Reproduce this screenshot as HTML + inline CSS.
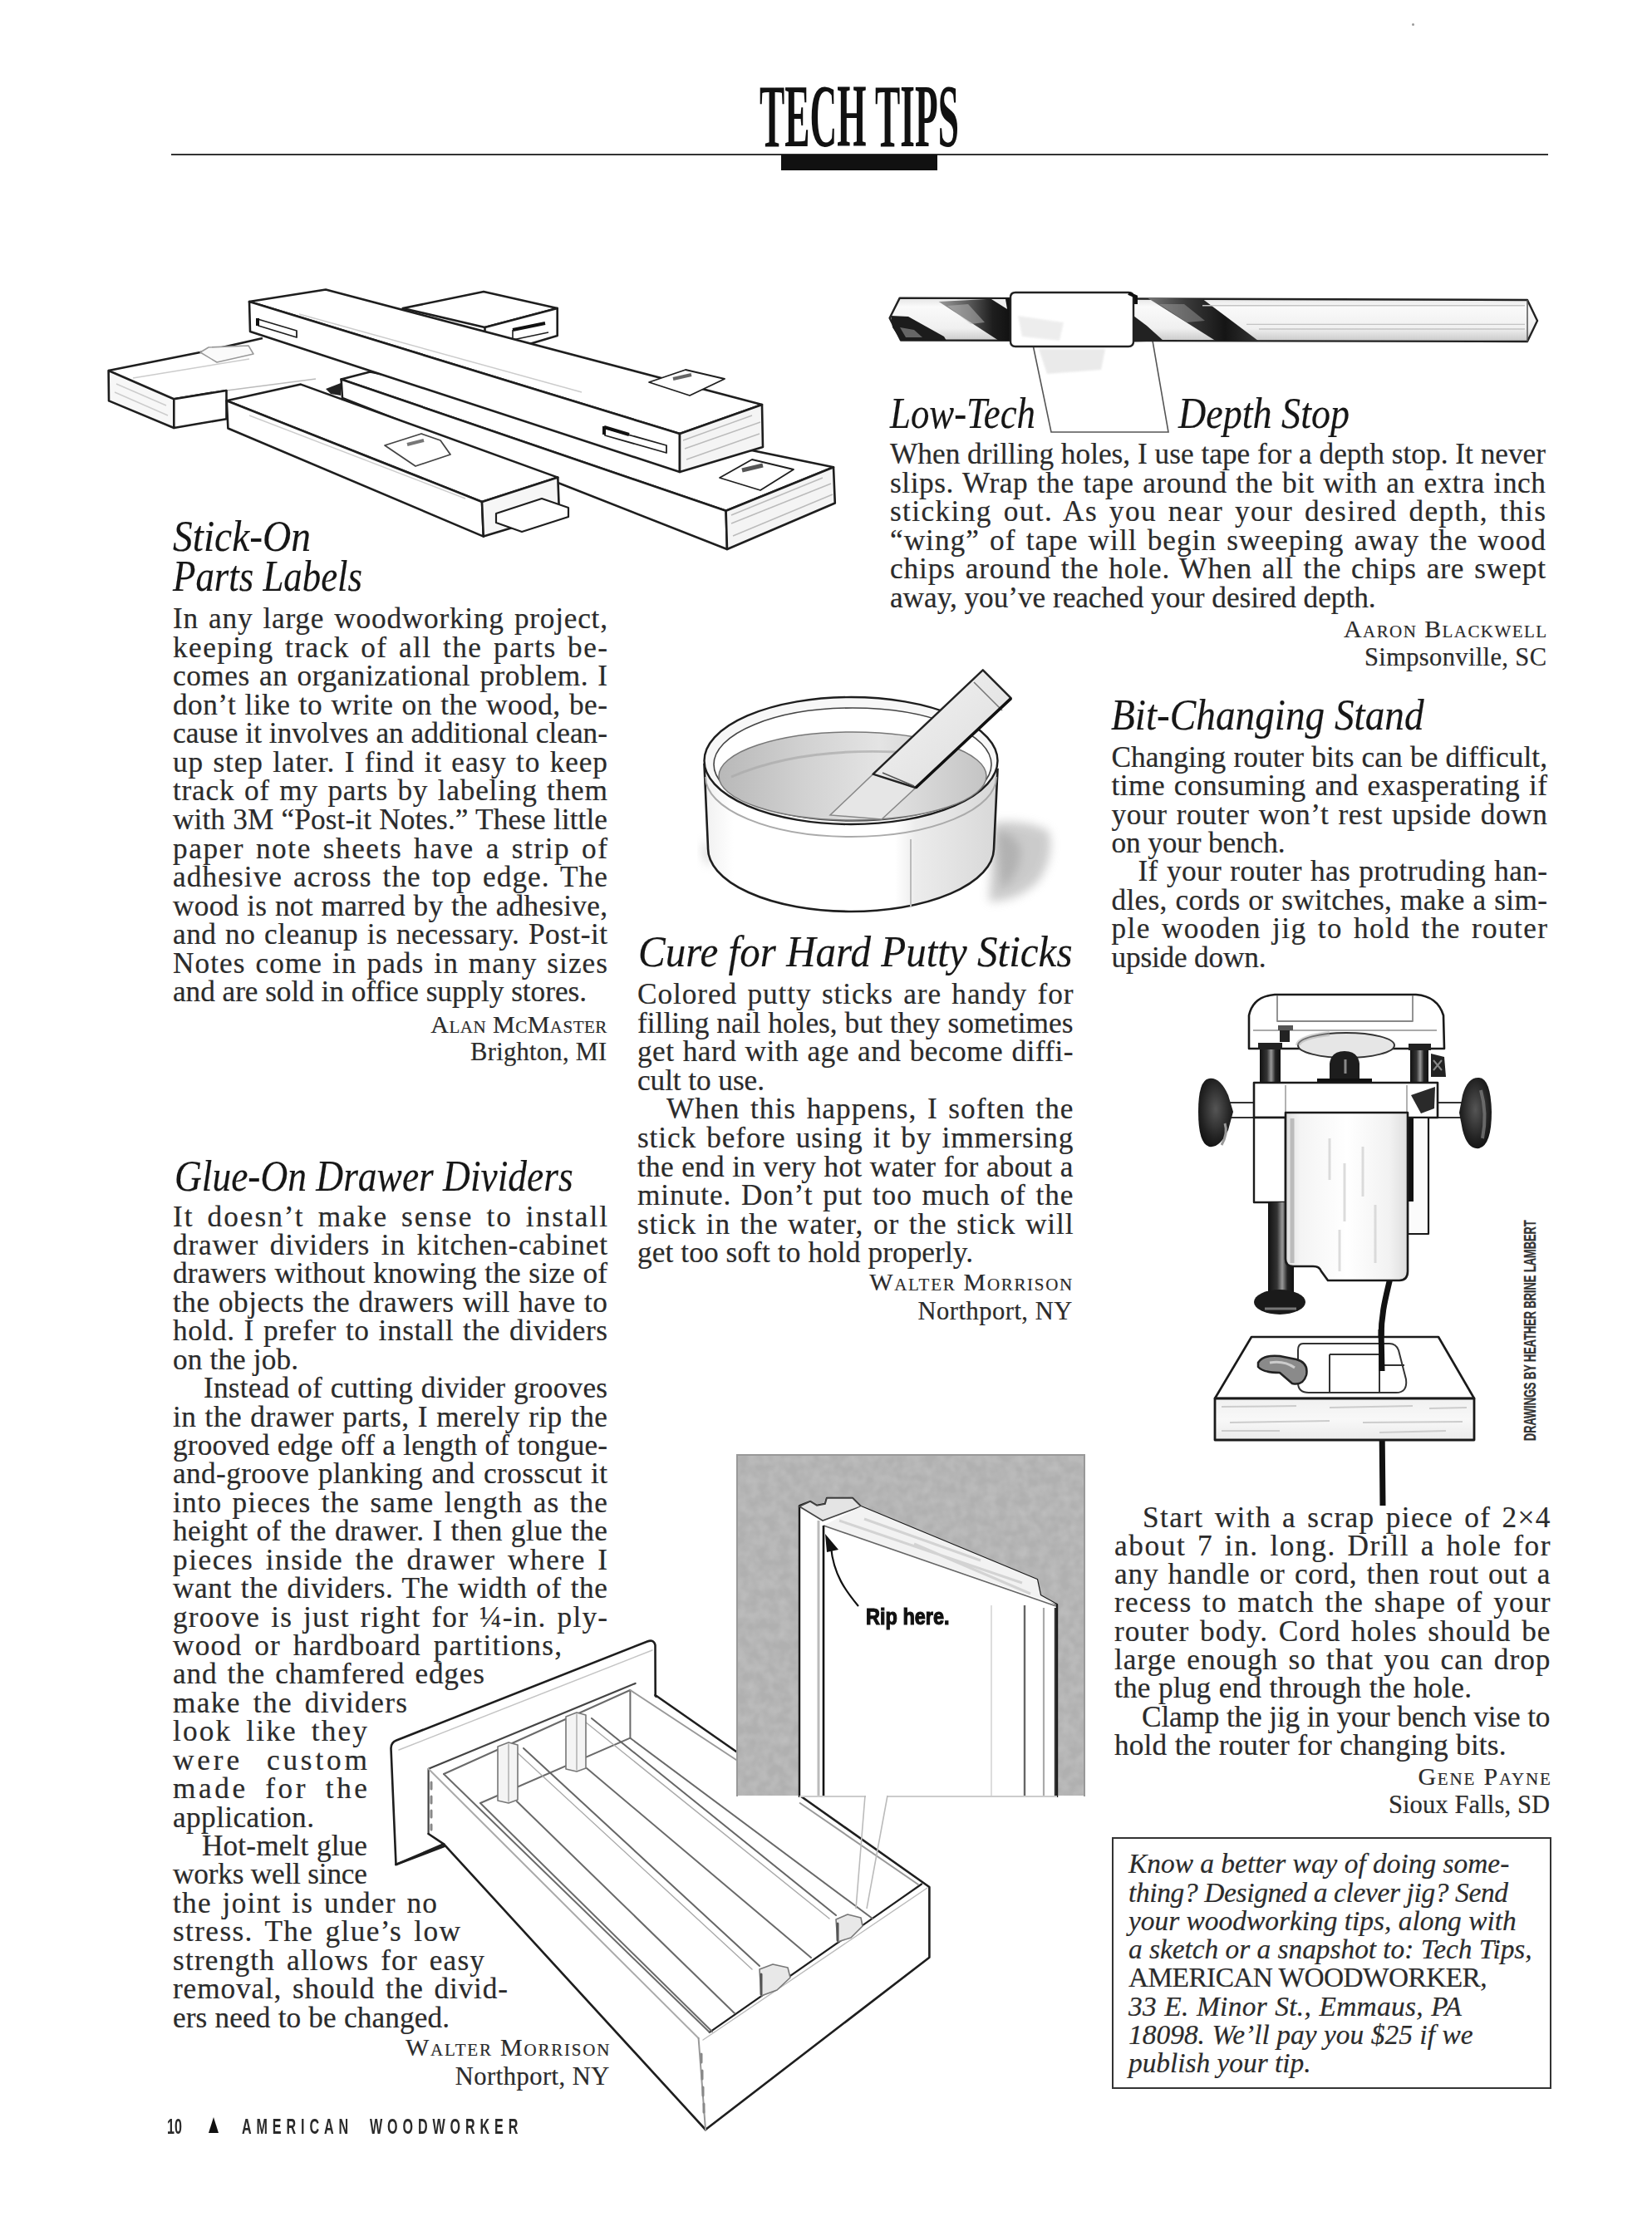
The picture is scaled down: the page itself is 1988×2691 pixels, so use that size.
<!DOCTYPE html>
<html><head><meta charset="utf-8">
<style>
html,body{margin:0;padding:0;background:#fff;}
body{width:1988px;height:2691px;position:relative;overflow:hidden;color:#2b2b2b;}
.ln{position:absolute;white-space:nowrap;-webkit-text-stroke:0.2px #2b2b2b;}
.ft{-webkit-text-stroke:0;font-family:'Liberation Sans',sans-serif;font-weight:bold;font-size:26px;line-height:26px;color:#2a2a2a;transform-origin:0 0;transform:scaleX(0.62);}
.hd{font-family:'Liberation Serif',serif;font-style:italic;font-size:52px;line-height:52px;color:#161616;transform-origin:0 0;}
.at{font-family:'Liberation Serif',serif;font-size:30.5px;line-height:30.5px;}
.at.sc{font-variant:small-caps;font-size:30px;line-height:30px;}
svg{position:absolute;overflow:visible;}
</style></head><body>
<!-- title -->
<div style="position:absolute;left:914px;top:86px;width:239px;height:100px;overflow:visible;">
<div style="position:absolute;left:0;top:0;font-family:'Liberation Serif',serif;font-weight:bold;font-size:108px;line-height:108px;white-space:nowrap;transform-origin:0 0;transform:scaleX(0.42);color:#111;">TECH TIPS</div>
</div>
<div style="position:absolute;left:206px;top:185px;width:1657px;height:2px;background:#333;"></div>
<div style="position:absolute;left:1699px;top:28px;width:3px;height:3px;background:#999;border-radius:50%;"></div>
<div style="position:absolute;left:940px;top:186px;width:188px;height:19px;background:#111;"></div>
<svg width="1988" height="2691" viewBox="0 0 1988 2691" style="left:0;top:0">
<defs>
<filter id="blur1" x="-20%" y="-20%" width="140%" height="140%"><feGaussianBlur stdDeviation="1.2"/></filter>
<filter id="blur3" x="-50%" y="-50%" width="200%" height="200%"><feGaussianBlur stdDeviation="6"/></filter>
<filter id="noise" x="0" y="0" width="100%" height="100%"><feTurbulence type="fractalNoise" baseFrequency="0.08" numOctaves="2" seed="3"/><feColorMatrix type="matrix" values="0 0 0 0 0.66  0 0 0 0 0.66  0 0 0 0 0.66  0 0 0 1.2 -0.35"/></filter>
</defs>
<g stroke="#1e1e1e" stroke-width="2.6" stroke-linejoin="round" fill="#fff">
<!-- Board C (left crosswise) -->
<polygon points="130.6,446 241,424 316,407 445,447 411,456 360,461 272.5,470 209.3,480.2" stroke="none"/>
<path d="M130.6,446 L241,424 L316,407" fill="none"/>
<path d="M209.3,480.2 L272.5,470" fill="none"/>
<path d="M272.5,470 L380,456" fill="none" stroke="#bbb" stroke-width="1.6"/>
<path d="M160,455 L300,432" fill="none" stroke="#ccc" stroke-width="1.5"/>
<polygon points="130.6,446 209.3,480.2 209.3,515 131,482.4" fill="#f7f7f7"/>
<path d="M140,462 L200,488 M138,472 L202,500" stroke="#ccc" stroke-width="1.4" fill="none"/>
<polygon points="209.3,480.2 272.5,470 272.5,504.2 209.3,515"/>
<path d="M241,424 l10,-6 l48,-2 l6,10 l-44,10 z" stroke="#999" stroke-width="1.5" fill="#fafafa"/>
<!-- Board E (middle long) -->
<polygon points="392,468 410,461 410,476 398,474" fill="#222" stroke="none"/>
<polygon points="410.6,456.5 445.4,447.4 1003,562.3 873.6,614.8"/>
<polygon points="410.6,456.5 873.6,614.8 875,661 412,479"/>
<polygon points="873.6,614.8 1003,562.3 1004.8,605.5 875,661" fill="#f4f4f4"/>
<g stroke="#bbb" stroke-width="1.4" fill="none">
<path d="M880,630 L1000,582 M882,645 L1002,595 M880,620 L990,575"/>
</g>
<path d="M866,575 L905,553 L955,565 L915,590 Z" stroke-width="1.8"/>
<path d="M893,566 l25,-6" stroke="#555" stroke-width="5"/>
<!-- Board B (upper right small) -->
<polygon points="484.7,371 582,351 670.7,371 583.5,394"/>
<polygon points="583.5,394 670.7,371 670.7,404 583.5,430"/>
<path d="M617,397 L656,389" stroke="#111" stroke-width="4"/>
<path d="M617,397 L617,409 L660,400" stroke-width="1.6" fill="none"/>
<!-- Board A (top long) -->
<polygon points="300,363 392,348.5 917,487 818,522"/>
<polygon points="300,363 818,522 818,568 301,399"/>
<polygon points="818,522 917,487 918,538 818,568" fill="#f4f4f4"/>
<g stroke="#bbb" stroke-width="1.4" fill="none">
<path d="M824,540 L915,508 M826,553 L914,522 M822,530 L905,500"/>
</g>
<path d="M310,384 L357,398 L357,406 L311,392 Z" stroke-width="1.8"/>
<path d="M310,383 l0,9" stroke="#111" stroke-width="4"/>
<path d="M727,515 L802,536 L802,545 L728,524 Z" stroke-width="1.8"/>
<path d="M727,513 l0,10 M727,514 l30,9" stroke="#111" stroke-width="4"/>
<path d="M781,460 L825,445 L872,456 L830,476 Z" stroke-width="1.8"/>
<path d="M810,456 l22,-5" stroke="#666" stroke-width="4"/>
<path d="M360,378 L700,472" stroke="#ccc" stroke-width="1.5" fill="none"/>
<!-- Board D (front left) -->
<polygon points="272.8,482.3 362,462.6 671.3,574.6 580,604"/>
<polygon points="272.8,482.3 580,604 581.8,645.6 274.4,515.5"/>
<polygon points="580,604 671.3,574.6 673,618 581.8,645.6" fill="#f6f6f6"/>
<path d="M463,536 L507,522 L530,530 L542,547 L500,561 Z" stroke-width="1.8" stroke="#444"/>
<path d="M490,535 l20,-5" stroke="#777" stroke-width="4"/>
<path d="M300,500 L560,600" stroke="#ccc" stroke-width="1.5" fill="none"/>
<!-- tab label sticking out of D end -->
<polygon points="597,618 652,600 684,611 684,622 628,640 597,629" stroke-width="2.2"/>
</g>

<g>
<defs>
<linearGradient id="flute2" x1="0" y1="0" x2="1" y2="0">
<stop offset="0" stop-color="#9a9a9a"/><stop offset="0.45" stop-color="#555"/><stop offset="0.75" stop-color="#1e1e1e"/><stop offset="1" stop-color="#111"/>
</linearGradient>
<linearGradient id="flute3" x1="0" y1="0" x2="1" y2="0">
<stop offset="0" stop-color="#777"/><stop offset="0.35" stop-color="#3a3a3a"/><stop offset="0.7" stop-color="#151515"/><stop offset="1" stop-color="#333"/>
</linearGradient>
<linearGradient id="shank" x1="0" y1="0" x2="0" y2="1">
<stop offset="0" stop-color="#e4e4e4"/><stop offset="0.2" stop-color="#fafafa"/><stop offset="0.7" stop-color="#f0f0f0"/><stop offset="1" stop-color="#c8c8c8"/>
</linearGradient>
</defs>
<!-- wing of tape -->
<polygon points="1243,415 1265,520 1406,520 1387,410" fill="#fff" stroke="#555" stroke-width="1.6"/>
<path d="M1250,420 L1330,420 L1325,445 L1260,450 Z" fill="#ddd" filter="url(#blur1)" opacity="0.6"/>
<!-- bit body -->
<path d="M1070.6,382.8 L1082.7,358.6 L1838,361 L1850,386 L1838,411 L1084,409.5 Z" fill="url(#shank)" stroke="#222" stroke-width="2.4" stroke-linejoin="round"/>
<!-- flutes left -->
<path d="M1072,380 L1093,381 L1136,405 L1139,410 L1084,409.5 L1074,394 Z" fill="#1c1c1c"/>
<path d="M1083,394 L1100,397 L1110,406 L1090,406 Z" fill="#666"/>
<path d="M1129.6,363 L1216,358.6 L1216,410 L1202,410 Z" fill="url(#flute2)"/>
<path d="M1193,360 L1210,360 L1212,372 Z" fill="#eee"/>
<path d="M1140,368 L1165,366 L1185,388 L1168,390 Z" fill="#bbb" opacity="0.5"/>
<!-- flutes right -->
<path d="M1364,380 L1380,392 L1400,410 L1364,410 Z" fill="#222"/>
<path d="M1380.8,358.6 L1447.4,360 L1514,410 L1462.6,410 Z" fill="url(#flute3)"/>
<path d="M1395,366 L1425,366 L1450,386 L1428,388 Z" fill="#999" opacity="0.5"/>
<path d="M1447,367.7 L1835,367.7 M1500,390.4 L1835,390.4 M1515,396 L1835,396" stroke="#c4c4c4" stroke-width="1.4"/>
<path d="M1838,361 L1838,411" stroke="#555" stroke-width="1.5"/>
<!-- tape -->
<path d="M1222,352 L1358,352 Q1364,352 1364,358 L1364,411 Q1364,417 1358,417 L1222,417 Q1216,417 1216,411 L1216,358 Q1216,352 1222,352 Z" fill="#fff" stroke="#222" stroke-width="2.4"/>
<path d="M1225,380 L1280,388 L1275,410 L1230,405 Z" fill="#ddd" filter="url(#blur1)" opacity="0.5"/>
<path d="M1358,353 L1367,357 L1367,366" fill="none" stroke="#111" stroke-width="4"/>
</g>

<g>
<defs>
<linearGradient id="water" x1="0" y1="0" x2="1" y2="0">
<stop offset="0" stop-color="#b8b8b8"/><stop offset="0.3" stop-color="#d0d0d0"/><stop offset="0.6" stop-color="#e4e4e4"/><stop offset="1" stop-color="#c4c4c4"/>
</linearGradient>
<linearGradient id="bowlside" x1="0" y1="0" x2="1" y2="0">
<stop offset="0" stop-color="#f0f0f0"/><stop offset="0.1" stop-color="#fff"/><stop offset="0.65" stop-color="#fff"/><stop offset="0.72" stop-color="#ececec"/><stop offset="1" stop-color="#d8d8d8"/>
</linearGradient>
<linearGradient id="stick" x1="0" y1="0" x2="1" y2="1">
<stop offset="0" stop-color="#f4f4f4"/><stop offset="1" stop-color="#dcdcdc"/>
</linearGradient>
</defs>
<!-- shadow -->
<path d="M1196,990 Q1230,985 1262,1000 Q1270,1030 1250,1060 Q1225,1085 1190,1085 Z" fill="#aaa" filter="url(#blur3)" opacity="0.6"/>
<path d="M1198,1000 Q1218,1000 1228,1020 Q1230,1050 1205,1070 Z" fill="#999" filter="url(#blur3)" opacity="0.5"/>
<path d="M850,1010 Q840,1025 852,1040 L858,1040 Z" fill="#bbb" filter="url(#blur3)" opacity="0.6"/>
<!-- side -->
<path d="M847.5,920 L852,1020 A172,76 0 0 0 1196,1022 L1200.5,926 Z" fill="url(#bowlside)" stroke="#1e1e1e" stroke-width="2.6"/>
<path d="M1096,1010 L1096,1092" stroke="#bbb" stroke-width="2"/>
<path d="M849,935 A175,72 0 0 0 1199,935" fill="none" stroke="#aaa" stroke-width="2"/>
<!-- rim -->
<ellipse cx="1024" cy="915.5" rx="176.5" ry="76.5" fill="#f7f7f7" stroke="#1e1e1e" stroke-width="2.4"/>
<ellipse cx="1026" cy="920" rx="167" ry="68" fill="#fff" stroke="#444" stroke-width="1.6"/>
<!-- water -->
<ellipse cx="1026" cy="934" rx="161" ry="53" fill="url(#water)" stroke="#777" stroke-width="1.5"/>
<path d="M880,935 Q960,900 1080,905" stroke="#aaa" stroke-width="3" fill="none" opacity="0.7"/>
<!-- submerged stick -->
<polygon points="1050.6,931.6 1102,948 1061,986 999,981" fill="#e6e6e6" stroke="#888" stroke-width="1.5"/>
<!-- stick -->
<polygon points="1182.8,806.3 1216.8,840.4 1102,948 1050.6,931.6" fill="url(#stick)" stroke="#222" stroke-width="2.4" stroke-linejoin="round"/>
<path d="M1172,821 L1206,855" stroke="#777" stroke-width="1.6"/>
<path d="M1216.8,840.4 L1102,948" stroke="#111" stroke-width="3.5"/>
<path d="M1062,930 L1100,946" stroke="#555" stroke-width="1.6"/>
</g>

<g stroke-linejoin="round">
<defs>
<linearGradient id="post" x1="0" y1="0" x2="1" y2="0">
<stop offset="0" stop-color="#111"/><stop offset="0.35" stop-color="#333"/><stop offset="0.55" stop-color="#999"/><stop offset="0.75" stop-color="#222"/><stop offset="1" stop-color="#111"/>
</linearGradient>
<radialGradient id="knob" cx="0.5" cy="0.45" r="0.6">
<stop offset="0" stop-color="#555"/><stop offset="0.7" stop-color="#222"/><stop offset="1" stop-color="#111"/>
</radialGradient>
<linearGradient id="motor" x1="0" y1="0" x2="1" y2="0">
<stop offset="0" stop-color="#ddd"/><stop offset="0.12" stop-color="#f4f4f4"/><stop offset="0.5" stop-color="#fff"/><stop offset="0.85" stop-color="#f2f2f2"/><stop offset="1" stop-color="#ddd"/>
</linearGradient>
<linearGradient id="grain" x1="0" y1="0" x2="0" y2="1">
<stop offset="0" stop-color="#f0f0f0"/><stop offset="0.5" stop-color="#f8f8f8"/><stop offset="1" stop-color="#eaeaea"/>
</linearGradient>
</defs>
<!-- cord behind -->
<path d="M1673,1538 C1668,1560 1662,1580 1662,1610 L1664,1812" fill="none" stroke="#111" stroke-width="7"/>
<!-- base -->
<path d="M1534,1197 L1704,1197 Q1730,1199 1737,1222 L1738,1262 L1503,1262 L1503,1222 Q1508,1199 1534,1197 Z" fill="#fff" stroke="#1a1a1a" stroke-width="2.6"/>
<path d="M1537,1198 L1537,1229 L1700,1229 L1700,1198" fill="none" stroke="#888" stroke-width="1.8"/>
<path d="M1508,1240 L1729,1240" stroke="#aaa" stroke-width="2"/>
<ellipse cx="1620" cy="1258" rx="58" ry="15" fill="#e6e6e6" stroke="#333" stroke-width="2"/>
<path d="M1562,1258 A58,15 0 0 1 1600,1244" fill="none" stroke="#aaa" stroke-width="6" opacity="0.5"/>
<rect x="1540" y="1236" width="12" height="18" fill="#222"/>
<rect x="1538" y="1234" width="18" height="6" fill="#555"/>
<!-- posts -->
<rect x="1516" y="1257" width="25" height="46" fill="url(#post)"/>
<rect x="1514" y="1255" width="29" height="8" fill="#222"/>
<rect x="1697" y="1258" width="22" height="45" fill="url(#post)"/>
<rect x="1695" y="1256" width="27" height="8" fill="#222"/>
<path d="M1722,1268 L1738,1272 L1740,1296 L1722,1296 Z" fill="#222"/>
<path d="M1725,1276 l10,12 M1735,1276 l-10,12" stroke="#888" stroke-width="2"/>
<!-- collet nut -->
<path d="M1600,1299 L1600,1280 Q1602,1265 1618,1265 Q1634,1265 1636,1280 L1636,1299 Z" fill="#1d1d1d"/>
<path d="M1619,1275 L1619,1292" stroke="#888" stroke-width="3"/>
<path d="M1585,1300 L1651,1300" stroke="#111" stroke-width="4"/>
<!-- handle bars -->
<rect x="1468" y="1327" width="42" height="18" fill="#fff" stroke="#333" stroke-width="2"/>
<rect x="1728" y="1327" width="40" height="18" fill="#fff" stroke="#333" stroke-width="2"/>
<!-- knobs -->
<path d="M1455,1298 Q1442,1300 1442,1338 Q1442,1376 1455,1380 Q1468,1382 1478,1360 L1484,1338 L1478,1318 Q1468,1296 1455,1298 Z" fill="url(#knob)"/>
<path d="M1474,1352 Q1478,1364 1470,1378" stroke="#999" stroke-width="3" fill="none"/>
<path d="M1780,1297 Q1794,1298 1795,1338 Q1795,1378 1780,1382 Q1766,1384 1760,1360 L1756,1339 L1760,1318 Q1766,1296 1780,1297 Z" fill="url(#knob)"/>
<path d="M1782,1312 Q1790,1340 1784,1370" stroke="#777" stroke-width="4" fill="none" opacity="0.8"/>
<!-- carriage -->
<rect x="1509" y="1303" width="221" height="42" fill="#fff" stroke="#1a1a1a" stroke-width="2.6"/>
<path d="M1547,1306 L1547,1345 M1693,1306 L1693,1345" stroke="#aaa" stroke-width="1.8"/>
<path d="M1698,1318 L1727,1308 L1726,1334 L1710,1340 Z" fill="#2a2a2a"/>
<!-- left piece -->
<rect x="1509" y="1345" width="38" height="102" fill="#fff" stroke="#1a1a1a" stroke-width="2.4"/>
<!-- depth rod -->
<rect x="1526" y="1447" width="31" height="110" fill="url(#post)"/>
<ellipse cx="1540" cy="1567" rx="31" ry="15" fill="#1a1a1a"/>
<path d="M1522,1575 L1560,1575" stroke="#777" stroke-width="3"/>
<!-- right piece -->
<rect x="1694" y="1345" width="25" height="140" fill="#fbfbfb" stroke="#1a1a1a" stroke-width="2.2"/>
<rect x="1693" y="1346" width="8" height="100" fill="#111"/>
<!-- motor body -->
<path d="M1547,1339 L1694,1339 L1694,1530 Q1694,1541 1684,1541 L1598,1541 L1590,1530 Q1588,1524 1580,1524 L1556,1524 Q1547,1524 1547,1515 Z" fill="url(#motor)" stroke="#1a1a1a" stroke-width="2.6"/>
<path d="M1555,1346 L1555,1520" stroke="#bbb" stroke-width="5"/>
<g stroke="#d4d4d4" stroke-width="3" opacity="0.8">
<path d="M1600,1370 L1600,1420 M1618,1400 L1618,1470 M1640,1380 L1640,1440 M1655,1450 L1655,1520 M1612,1480 L1612,1530"/>
</g>
<!-- jig block -->
<polygon points="1506,1609 1731,1609 1774,1683 1462,1683" fill="#fff" stroke="#1a1a1a" stroke-width="2.6"/>
<rect x="1462" y="1683" width="312" height="50" fill="url(#grain)" stroke="#1a1a1a" stroke-width="2.8"/>
<g stroke="#ccc" stroke-width="2" fill="none">
<path d="M1470,1693 L1560,1692 M1600,1694 L1700,1692 M1720,1695 L1765,1694 M1480,1712 L1600,1710 M1640,1712 L1760,1711 M1470,1722 L1540,1722 M1660,1724 L1740,1722"/>
</g>
<!-- recess -->
<path d="M1568,1617 L1672,1617 Q1680,1617 1683,1625 L1692,1660 Q1694,1676 1680,1676 L1575,1676 Q1562,1676 1562,1664 L1562,1625 Q1562,1617 1568,1617 Z" fill="#fff" stroke="#333" stroke-width="2"/>
<path d="M1600,1630 L1660,1630 L1660,1676 M1600,1630 L1600,1676 M1660,1643 L1690,1643" fill="none" stroke="#333" stroke-width="2"/>
<path d="M1514,1640 Q1520,1630 1540,1632 L1560,1636 Q1575,1640 1572,1655 Q1568,1668 1555,1665 L1540,1652 Q1520,1652 1514,1645 Z" fill="#8a8a8a" stroke="#222" stroke-width="2.5"/>
<path d="M1528,1640 Q1545,1637 1558,1646" stroke="#ccc" stroke-width="3" fill="none"/>
<!-- cord on top of block -->
<path d="M1662,1600 L1663,1650" stroke="#111" stroke-width="7"/>
</g>

<g stroke-linejoin="round" stroke-linecap="round">
<!-- false front -->
<path d="M476.5,2244 L470.5,2104 Q470.5,2097 477,2094.5 L779,1975.5 Q787,1972.5 788.5,1980 L789,2125 L476.5,2244 Z" fill="#fff" stroke="#1e1e1e" stroke-width="2.6"/>
<path d="M480,2106 L785,1986" stroke="#c4c4c4" stroke-width="1.5"/>
<!-- drawer box fill -->
<path d="M515.6,2128.8 L764.6,2025.9 L1118.4,2271 L1118.4,2355.7 L849,2563 L534.1,2219.3 L515.6,2207 Z" fill="#fff"/>
<!-- outer contour -->
<g fill="none" stroke="#1e1e1e" stroke-width="2.6">
<path d="M476.5,2244 L534.1,2219.3"/>
<path d="M515.6,2207 L515.6,2128.8 L764.6,2025.9" stroke-width="2.2" stroke="#444"/>
<path d="M515.6,2207 L534.1,2219.3 L849,2563"/>
<path d="M788.5,2040 L886,2108"/>
<path d="M962.7,2161 L1118.4,2271 L1118.4,2355.7 L849,2563"/>
<path d="M853.8,2445.8 L1109,2267.5" stroke-width="2.2"/>
</g>
<!-- light/mid interior lines -->
<g fill="none" stroke="#6a6a6a" stroke-width="2">
<path d="M534,2135 L758.4,2034 L758.4,2091.7 L578,2170"/>
<path d="M515.6,2128.8 L840.6,2453" stroke="#aaa"/>
<path d="M534,2135 L853.8,2445.8"/>
<path d="M840.6,2453 L849,2563" stroke="#999"/>
<path d="M846,2455 L1116,2272" stroke="#bbb" stroke-width="1.4"/>
<path d="M758.4,2034 L886,2118 M962.7,2170 L1105,2268" stroke="#999"/>
<!-- floor lines -->
<path d="M578,2170 L857,2445"/>
<path d="M622,2168 L884,2423"/>
<path d="M706,2128 L976,2356"/>
<path d="M758.4,2091.7 L1050,2309"/>
<!-- divider top edges -->
<path d="M630,2104 L914,2366" stroke="#666"/>
<path d="M621,2108 L905,2370" stroke="#aaa" stroke-width="1.4"/>
<path d="M712,2068 L1006,2305" stroke="#666"/>
<path d="M704,2072 L998,2309" stroke="#aaa" stroke-width="1.4"/>
<!-- dovetail marks -->
<path d="M519,2145 l0,8 M519,2162 l0,8 M519,2179 l0,8 M519,2196 l0,6 M844,2472 l0,10 M845,2492 l0,10 M846,2512 l0,10 M847,2532 l0,10" stroke="#888" stroke-width="3"/>
</g>
<!-- glue blocks -->
<g fill="#f4f4f4" stroke="#777" stroke-width="1.6">
<path d="M599,2102 L612,2097 L623,2100 L623,2166 L612,2170 L599,2167 Z"/>
<path d="M681,2066 L694,2061 L705,2064 L705,2128 L694,2132 L681,2129 Z"/>
<path d="M914,2370 L930,2364 L948,2368 L951,2380 L935,2395 L916,2402 Z" fill="#e8e8e8"/>
<path d="M1006,2310 L1020,2304 L1036,2308 L1038,2318 L1024,2332 L1008,2337 Z" fill="#e8e8e8"/>
</g>
<path d="M612,2099 L612,2168 M694,2063 L694,2130" stroke="#aaa" stroke-width="1.4"/>
<path d="M916,2376 L916,2400 M1008,2315 L1008,2335" stroke="#555" stroke-width="3"/>
</g>

<g>
<rect x="887" y="1751" width="418" height="410" fill="#b0b0b0"/>
<rect x="887" y="1751" width="418" height="410" filter="url(#noise)" opacity="0.55"/>
<path d="M887,2162 L887,1751 L1305,1751 L1305,2162" fill="none" stroke="#999" stroke-width="2"/>
<!-- board -->
<path d="M962,2163 L962,1812 L975,1807 L983,1812 L993,1810 L995,1803 L1026,1803 L1036,1813 L1248,1901 L1252,1920 L1272,1931 L1272,2163 Z" fill="#fff" stroke="none"/>
<path d="M962,2163 L962,1812 L975,1807 L983,1812 L993,1810 L995,1803 L1026,1803 L1036,1813 L1248,1901 L1252,1920 L1272,1931 L1272,2163" fill="none" stroke="#1a1a1a" stroke-width="2.4" stroke-linejoin="round"/>
<path d="M962,1813 L975,1807 L983,1812 L993,1810 L995,1803 L1026,1803 L1036,1813 L990,1830 Z" fill="#e4e4e4" stroke="#444" stroke-width="1.6"/>
<path d="M1036,1813 L1248,1901 L1252,1920 L1272,1931 L991,1836 Z" fill="#f2f2f2"/>
<path d="M991,1836 L1271,1933" stroke="#666" stroke-width="1.8"/>
<g stroke="#ccc" stroke-width="3" opacity="0.8">
<path d="M1010,1830 L1230,1905 M1040,1828 L1180,1878 M1100,1858 L1240,1918"/>
</g>
<path d="M985,1830 L985,2161" stroke="#bbb" stroke-width="3"/>
<path d="M991,1836 L991,2161" stroke="#111" stroke-width="2.6"/>
<path d="M1193,1932 L1193,2161" stroke="#ddd" stroke-width="2"/>
<path d="M1233,1932 L1233,2161" stroke="#666" stroke-width="2.4"/>
<path d="M1256,1935 L1256,2161" stroke="#aaa" stroke-width="2.2"/>
<path d="M1270,1935 L1270,2161" stroke="#333" stroke-width="2.4"/>
<path d="M962,2162 L1042,2162 M1068,2162 L1272,2162" stroke="#ccc" stroke-width="2"/>
<!-- arrow -->
<path d="M1033,1933 C1018,1915 1003,1895 1000,1862" fill="none" stroke="#111" stroke-width="2.2"/>
<path d="M993,1846 L1009,1865 L995,1868 Z" fill="#111"/>
<!-- callout lines -->
<path d="M1041,2161 L1030,2297 M1068,2161 L1043,2297" stroke="#bbb" stroke-width="1.6" fill="none"/>
</g>

</svg>
<div class="ln" style="top:727.0px;left:208.0px;font-size:35.3px;line-height:35.3px;font-family:'Liberation Serif',serif;letter-spacing:0.755px;word-spacing:2.589px;">In any large woodworking project,</div>
<div class="ln" style="top:761.6px;left:208.0px;font-size:35.3px;line-height:35.3px;font-family:'Liberation Serif',serif;letter-spacing:1.406px;word-spacing:3.314px;">keeping track of all the parts be-</div>
<div class="ln" style="top:796.1px;left:208.0px;font-size:35.3px;line-height:35.3px;font-family:'Liberation Serif',serif;letter-spacing:0.525px;word-spacing:1.856px;">comes an organizational problem. I</div>
<div class="ln" style="top:830.7px;left:208.0px;font-size:35.3px;line-height:35.3px;font-family:'Liberation Serif',serif;letter-spacing:0.474px;word-spacing:1.016px;">don’t like to write on the wood, be-</div>
<div class="ln" style="top:865.3px;left:208.0px;font-size:35.3px;line-height:35.3px;font-family:'Liberation Serif',serif;letter-spacing:0.011px;word-spacing:0.036px;">cause it involves an additional clean-</div>
<div class="ln" style="top:899.9px;left:208.0px;font-size:35.3px;line-height:35.3px;font-family:'Liberation Serif',serif;letter-spacing:0.887px;word-spacing:1.712px;">up step later. I find it easy to keep</div>
<div class="ln" style="top:934.4px;left:208.0px;font-size:35.3px;line-height:35.3px;font-family:'Liberation Serif',serif;letter-spacing:0.781px;word-spacing:1.841px;">track of my parts by labeling them</div>
<div class="ln" style="top:969.0px;left:208.0px;font-size:35.3px;line-height:35.3px;font-family:'Liberation Serif',serif;letter-spacing:0.079px;word-spacing:0.243px;">with 3M “Post-it Notes.” These little</div>
<div class="ln" style="top:1003.6px;left:208.0px;font-size:35.3px;line-height:35.3px;font-family:'Liberation Serif',serif;letter-spacing:1.535px;word-spacing:3.509px;">paper note sheets have a strip of</div>
<div class="ln" style="top:1038.1px;left:208.0px;font-size:35.3px;line-height:35.3px;font-family:'Liberation Serif',serif;letter-spacing:1.078px;word-spacing:2.956px;">adhesive across the top edge. The</div>
<div class="ln" style="top:1072.7px;left:208.0px;font-size:35.3px;line-height:35.3px;font-family:'Liberation Serif',serif;letter-spacing:0.253px;word-spacing:0.615px;">wood is not marred by the adhesive,</div>
<div class="ln" style="top:1107.3px;left:208.0px;font-size:35.3px;line-height:35.3px;font-family:'Liberation Serif',serif;letter-spacing:0.468px;word-spacing:1.404px;">and no cleanup is necessary. Post-it</div>
<div class="ln" style="top:1141.8px;left:208.0px;font-size:35.3px;line-height:35.3px;font-family:'Liberation Serif',serif;letter-spacing:1.008px;word-spacing:2.231px;">Notes come in pads in many sizes</div>
<div class="ln" style="top:1176.4px;left:208.0px;font-size:35.3px;line-height:35.3px;font-family:'Liberation Serif',serif;letter-spacing:-0.063px;">and are sold in office supply stores.</div>
<div class="ln" style="top:1446.5px;left:208.0px;font-size:35.3px;line-height:35.3px;font-family:'Liberation Serif',serif;letter-spacing:1.974px;word-spacing:5.245px;">It doesn’t make sense to install</div>
<div class="ln" style="top:1480.9px;left:208.0px;font-size:35.3px;line-height:35.3px;font-family:'Liberation Serif',serif;letter-spacing:0.845px;word-spacing:3.981px;">drawer dividers in kitchen-cabinet</div>
<div class="ln" style="top:1515.4px;left:208.0px;font-size:35.3px;line-height:35.3px;font-family:'Liberation Serif',serif;letter-spacing:0.172px;word-spacing:0.502px;">drawers without knowing the size of</div>
<div class="ln" style="top:1549.8px;left:208.0px;font-size:35.3px;line-height:35.3px;font-family:'Liberation Serif',serif;letter-spacing:0.462px;word-spacing:1.155px;">the objects the drawers will have to</div>
<div class="ln" style="top:1584.2px;left:208.0px;font-size:35.3px;line-height:35.3px;font-family:'Liberation Serif',serif;letter-spacing:0.604px;word-spacing:1.595px;">hold. I prefer to install the dividers</div>
<div class="ln" style="top:1618.7px;left:208.0px;font-size:35.3px;line-height:35.3px;font-family:'Liberation Serif',serif;letter-spacing:0.070px;word-spacing:0.150px;">on the job.</div>
<div class="ln" style="top:1653.1px;left:245.0px;font-size:35.3px;line-height:35.3px;font-family:'Liberation Serif',serif;letter-spacing:0.204px;word-spacing:0.721px;">Instead of cutting divider grooves</div>
<div class="ln" style="top:1687.5px;left:208.0px;font-size:35.3px;line-height:35.3px;font-family:'Liberation Serif',serif;letter-spacing:0.450px;word-spacing:0.992px;">in the drawer parts, I merely rip the</div>
<div class="ln" style="top:1721.9px;left:208.0px;font-size:35.3px;line-height:35.3px;font-family:'Liberation Serif',serif;letter-spacing:0.122px;word-spacing:0.306px;">grooved edge off a length of tongue-</div>
<div class="ln" style="top:1756.4px;left:208.0px;font-size:35.3px;line-height:35.3px;font-family:'Liberation Serif',serif;letter-spacing:0.354px;word-spacing:1.290px;">and-groove planking and crosscut it</div>
<div class="ln" style="top:1790.8px;left:208.0px;font-size:35.3px;line-height:35.3px;font-family:'Liberation Serif',serif;letter-spacing:1.072px;word-spacing:2.527px;">into pieces the same length as the</div>
<div class="ln" style="top:1825.2px;left:208.0px;font-size:35.3px;line-height:35.3px;font-family:'Liberation Serif',serif;letter-spacing:0.373px;word-spacing:0.823px;">height of the drawer. I then glue the</div>
<div class="ln" style="top:1859.7px;left:208.0px;font-size:35.3px;line-height:35.3px;font-family:'Liberation Serif',serif;letter-spacing:1.519px;word-spacing:4.037px;">pieces inside the drawer where I</div>
<div class="ln" style="top:1894.1px;left:208.0px;font-size:35.3px;line-height:35.3px;font-family:'Liberation Serif',serif;letter-spacing:0.589px;word-spacing:1.430px;">want the dividers. The width of the</div>
<div class="ln" style="top:1928.5px;left:208.0px;font-size:35.3px;line-height:35.3px;font-family:'Liberation Serif',serif;letter-spacing:1.201px;word-spacing:2.916px;">groove is just right for ¼-in. ply-</div>
<div class="ln" style="top:1963.0px;left:208.0px;font-size:35.3px;line-height:35.3px;font-family:'Liberation Serif',serif;letter-spacing:1.211px;word-spacing:4.845px;">wood or hardboard partitions,</div>
<div class="ln" style="top:1997.4px;left:208.0px;font-size:35.3px;line-height:35.3px;font-family:'Liberation Serif',serif;letter-spacing:0.800px;word-spacing:2.514px;">and the chamfered edges</div>
<div class="ln" style="top:2031.8px;left:208.0px;font-size:35.3px;line-height:35.3px;font-family:'Liberation Serif',serif;letter-spacing:1.360px;word-spacing:4.662px;">make the dividers</div>
<div class="ln" style="top:2066.2px;left:208.0px;font-size:35.3px;line-height:35.3px;font-family:'Liberation Serif',serif;letter-spacing:2.148px;word-spacing:5.984px;">look like they</div>
<div class="ln" style="top:2100.7px;left:208.0px;font-size:35.3px;line-height:35.3px;font-family:'Liberation Serif',serif;letter-spacing:3.824px;word-spacing:16.388px;">were custom</div>
<div class="ln" style="top:2135.1px;left:208.0px;font-size:35.3px;line-height:35.3px;font-family:'Liberation Serif',serif;letter-spacing:3.540px;word-spacing:8.344px;">made for the</div>
<div class="ln" style="top:2169.5px;left:208.0px;font-size:35.3px;line-height:35.3px;font-family:'Liberation Serif',serif;letter-spacing:0.395px;">application.</div>
<div class="ln" style="top:2204.0px;left:243.0px;font-size:35.3px;line-height:35.3px;font-family:'Liberation Serif',serif;letter-spacing:0.115px;word-spacing:0.591px;">Hot-melt glue</div>
<div class="ln" style="top:2238.4px;left:208.0px;font-size:35.3px;line-height:35.3px;font-family:'Liberation Serif',serif;letter-spacing:-0.216px;">works well since</div>
<div class="ln" style="top:2272.8px;left:208.0px;font-size:35.3px;line-height:35.3px;font-family:'Liberation Serif',serif;letter-spacing:1.248px;word-spacing:2.674px;">the joint is under no</div>
<div class="ln" style="top:2307.3px;left:208.0px;font-size:35.3px;line-height:35.3px;font-family:'Liberation Serif',serif;letter-spacing:1.359px;word-spacing:4.077px;">stress. The glue’s low</div>
<div class="ln" style="top:2341.7px;left:208.0px;font-size:35.3px;line-height:35.3px;font-family:'Liberation Serif',serif;letter-spacing:1.180px;word-spacing:3.878px;">strength allows for easy</div>
<div class="ln" style="top:2376.1px;left:208.0px;font-size:35.3px;line-height:35.3px;font-family:'Liberation Serif',serif;letter-spacing:0.854px;word-spacing:3.048px;">removal, should the divid-</div>
<div class="ln" style="top:2410.5px;left:208.0px;font-size:35.3px;line-height:35.3px;font-family:'Liberation Serif',serif;letter-spacing:0.087px;word-spacing:0.204px;">ers need to be changed.</div>
<div class="ln" style="top:1179.0px;left:767.0px;font-size:35.3px;line-height:35.3px;font-family:'Liberation Serif',serif;letter-spacing:0.916px;word-spacing:2.591px;">Colored putty sticks are handy for</div>
<div class="ln" style="top:1213.6px;left:767.0px;font-size:35.3px;line-height:35.3px;font-family:'Liberation Serif',serif;letter-spacing:0.019px;word-spacing:0.059px;">filling nail holes, but they sometimes</div>
<div class="ln" style="top:1248.2px;left:767.0px;font-size:35.3px;line-height:35.3px;font-family:'Liberation Serif',serif;letter-spacing:0.440px;word-spacing:1.069px;">get hard with age and become diffi-</div>
<div class="ln" style="top:1282.8px;left:767.0px;font-size:35.3px;line-height:35.3px;font-family:'Liberation Serif',serif;letter-spacing:-0.084px;">cult to use.</div>
<div class="ln" style="top:1317.4px;left:802.0px;font-size:35.3px;line-height:35.3px;font-family:'Liberation Serif',serif;letter-spacing:1.038px;word-spacing:2.668px;">When this happens, I soften the</div>
<div class="ln" style="top:1352.0px;left:767.0px;font-size:35.3px;line-height:35.3px;font-family:'Liberation Serif',serif;letter-spacing:0.874px;word-spacing:2.471px;">stick before using it by immersing</div>
<div class="ln" style="top:1386.6px;left:767.0px;font-size:35.3px;line-height:35.3px;font-family:'Liberation Serif',serif;letter-spacing:0.212px;word-spacing:0.409px;">the end in very hot water for about a</div>
<div class="ln" style="top:1421.2px;left:767.0px;font-size:35.3px;line-height:35.3px;font-family:'Liberation Serif',serif;letter-spacing:0.915px;word-spacing:2.091px;">minute. Don’t put too much of the</div>
<div class="ln" style="top:1455.8px;left:767.0px;font-size:35.3px;line-height:35.3px;font-family:'Liberation Serif',serif;letter-spacing:0.887px;word-spacing:1.954px;">stick in the water, or the stick will</div>
<div class="ln" style="top:1490.4px;left:767.0px;font-size:35.3px;line-height:35.3px;font-family:'Liberation Serif',serif;letter-spacing:0.058px;word-spacing:0.143px;">get too soft to hold properly.</div>
<div class="ln" style="top:529.3px;left:1071.0px;font-size:35.3px;line-height:35.3px;font-family:'Liberation Serif',serif;">When drilling holes, I use tape for a depth stop. It never</div>
<div class="ln" style="top:563.8px;left:1071.0px;font-size:35.3px;line-height:35.3px;font-family:'Liberation Serif',serif;letter-spacing:0.570px;word-spacing:1.295px;">slips. Wrap the tape around the bit with an extra inch</div>
<div class="ln" style="top:598.3px;left:1071.0px;font-size:35.3px;line-height:35.3px;font-family:'Liberation Serif',serif;letter-spacing:1.384px;word-spacing:3.633px;">sticking out. As you near your desired depth, this</div>
<div class="ln" style="top:632.8px;left:1071.0px;font-size:35.3px;line-height:35.3px;font-family:'Liberation Serif',serif;letter-spacing:0.977px;word-spacing:2.460px;">“wing” of tape will begin sweeping away the wood</div>
<div class="ln" style="top:667.3px;left:1071.0px;font-size:35.3px;line-height:35.3px;font-family:'Liberation Serif',serif;letter-spacing:0.873px;word-spacing:2.079px;">chips around the hole. When all the chips are swept</div>
<div class="ln" style="top:701.8px;left:1071.0px;font-size:35.3px;line-height:35.3px;font-family:'Liberation Serif',serif;letter-spacing:-0.055px;">away, you’ve reached your desired depth.</div>
<div class="ln" style="top:893.6px;left:1337.5px;font-size:35.3px;line-height:35.3px;font-family:'Liberation Serif',serif;letter-spacing:0.069px;word-spacing:0.219px;">Changing router bits can be difficult,</div>
<div class="ln" style="top:928.0px;left:1337.5px;font-size:35.3px;line-height:35.3px;font-family:'Liberation Serif',serif;letter-spacing:0.438px;word-spacing:1.550px;">time consuming and exasperating if</div>
<div class="ln" style="top:962.5px;left:1337.5px;font-size:35.3px;line-height:35.3px;font-family:'Liberation Serif',serif;letter-spacing:0.597px;word-spacing:1.688px;">your router won’t rest upside down</div>
<div class="ln" style="top:996.9px;left:1337.5px;font-size:35.3px;line-height:35.3px;font-family:'Liberation Serif',serif;letter-spacing:-0.135px;">on your bench.</div>
<div class="ln" style="top:1031.3px;left:1369.5px;font-size:35.3px;line-height:35.3px;font-family:'Liberation Serif',serif;letter-spacing:0.363px;word-spacing:1.027px;">If your router has protruding han-</div>
<div class="ln" style="top:1065.8px;left:1337.5px;font-size:35.3px;line-height:35.3px;font-family:'Liberation Serif',serif;letter-spacing:0.295px;word-spacing:0.738px;">dles, cords or switches, make a sim-</div>
<div class="ln" style="top:1100.2px;left:1337.5px;font-size:35.3px;line-height:35.3px;font-family:'Liberation Serif',serif;letter-spacing:1.352px;word-spacing:3.091px;">ple wooden jig to hold the router</div>
<div class="ln" style="top:1134.6px;left:1337.5px;font-size:35.3px;line-height:35.3px;font-family:'Liberation Serif',serif;letter-spacing:-0.205px;">upside down.</div>
<div class="ln" style="top:1808.6px;left:1375.0px;font-size:35.3px;line-height:35.3px;font-family:'Liberation Serif',serif;letter-spacing:1.375px;word-spacing:2.947px;">Start with a scrap piece of 2×4</div>
<div class="ln" style="top:1842.9px;left:1341.0px;font-size:35.3px;line-height:35.3px;font-family:'Liberation Serif',serif;letter-spacing:1.581px;word-spacing:3.195px;">about 7 in. long. Drill a hole for</div>
<div class="ln" style="top:1877.2px;left:1341.0px;font-size:35.3px;line-height:35.3px;font-family:'Liberation Serif',serif;letter-spacing:0.789px;word-spacing:1.643px;">any handle or cord, then rout out a</div>
<div class="ln" style="top:1911.4px;left:1341.0px;font-size:35.3px;line-height:35.3px;font-family:'Liberation Serif',serif;letter-spacing:1.182px;word-spacing:2.702px;">recess to match the shape of your</div>
<div class="ln" style="top:1945.7px;left:1341.0px;font-size:35.3px;line-height:35.3px;font-family:'Liberation Serif',serif;letter-spacing:1.015px;word-spacing:2.785px;">router body. Cord holes should be</div>
<div class="ln" style="top:1980.0px;left:1341.0px;font-size:35.3px;line-height:35.3px;font-family:'Liberation Serif',serif;letter-spacing:1.024px;word-spacing:2.340px;">large enough so that you can drop</div>
<div class="ln" style="top:2014.3px;left:1341.0px;font-size:35.3px;line-height:35.3px;font-family:'Liberation Serif',serif;letter-spacing:0.157px;word-spacing:0.391px;">the plug end through the hole.</div>
<div class="ln" style="top:2048.6px;left:1374.0px;font-size:35.3px;line-height:35.3px;font-family:'Liberation Serif',serif;letter-spacing:-0.163px;">Clamp the jig in your bench vise to</div>
<div class="ln" style="top:2082.8px;left:1341.0px;font-size:35.3px;line-height:35.3px;font-family:'Liberation Serif',serif;letter-spacing:0.146px;word-spacing:0.412px;">hold the router for changing bits.</div>
<div class="ln" style="top:2226.2px;left:1358.0px;font-size:33.4px;line-height:33.4px;font-family:'Liberation Serif',serif;font-style:italic;word-spacing:0.021px;">Know a better way of doing some-</div>
<div class="ln" style="top:2260.5px;left:1358.0px;font-size:33.4px;line-height:33.4px;font-family:'Liberation Serif',serif;font-style:italic;letter-spacing:-0.342px;">thing? Designed a clever jig? Send</div>
<div class="ln" style="top:2294.8px;left:1358.0px;font-size:33.4px;line-height:33.4px;font-family:'Liberation Serif',serif;font-style:italic;word-spacing:0.032px;">your woodworking tips, along with</div>
<div class="ln" style="top:2329.0px;left:1358.0px;font-size:33.4px;line-height:33.4px;font-family:'Liberation Serif',serif;font-style:italic;letter-spacing:-0.027px;">a sketch or a snapshot to: Tech Tips,</div>
<div class="ln" style="top:2363.3px;left:1358.0px;font-size:33.4px;line-height:33.4px;font-family:'Liberation Serif',serif;font-style:italic;letter-spacing:-0.591px;"><span style='font-style:normal'>AMERICAN WOODWORKER,</span></div>
<div class="ln" style="top:2397.6px;left:1358.0px;font-size:33.4px;line-height:33.4px;font-family:'Liberation Serif',serif;font-style:italic;letter-spacing:0.300px;word-spacing:0.668px;">33 E. Minor St., Emmaus, PA</div>
<div class="ln" style="top:2431.9px;left:1358.0px;font-size:33.4px;line-height:33.4px;font-family:'Liberation Serif',serif;font-style:italic;letter-spacing:0.029px;word-spacing:0.059px;">18098. We’ll pay you $25 if we</div>
<div class="ln" style="top:2466.2px;left:1358.0px;font-size:33.4px;line-height:33.4px;font-family:'Liberation Serif',serif;font-style:italic;letter-spacing:-0.014px;">publish your tip.</div>
<div class="ln hd" style="top:619.9px;left:207.5px;transform:scaleX(0.9124)">Stick-On</div>
<div class="ln hd" style="top:667.9px;left:207.5px;transform:scaleX(0.8624)">Parts Labels</div>
<div class="ln hd" style="top:1389.5px;left:209.5px;transform:scaleX(0.8739)">Glue-On Drawer Dividers</div>
<div class="ln hd" style="top:1119.5px;left:768px;transform:scaleX(0.9437)">Cure for Hard Putty Sticks</div>
<div class="ln hd" style="top:835.2px;left:1336.5px;transform:scaleX(0.9082)">Bit-Changing Stand</div>
<div class="ln hd" style="top:472.0px;left:1070.6px;transform:scaleX(0.8611)">Low-Tech</div>
<div class="ln hd" style="top:472.0px;left:1418px;transform:scaleX(0.8859)">Depth Stop</div>
<div class="ln at sc" style="top:742.1px;left:1617.0px;letter-spacing:1.417px">Aaron Blackwell</div>
<div class="ln at" style="top:776.0px;left:1642.0px;letter-spacing:0.364px">Simpsonville, SC</div>
<div class="ln at sc" style="top:1217.7px;left:518.3px;letter-spacing:0.484px">Alan McMaster</div>
<div class="ln at" style="top:1251.4px;left:566.1px;letter-spacing:0.292px">Brighton, MI</div>
<div class="ln at sc" style="top:1528.1px;left:1046.2px;letter-spacing:1.685px">Walter Morrison</div>
<div class="ln at" style="top:1563.4px;left:1104.5px;letter-spacing:0.509px">Northport, NY</div>
<div class="ln at sc" style="top:2449.2px;left:487.9px;letter-spacing:1.792px">Walter Morrison</div>
<div class="ln at" style="top:2484.2px;left:547.7px;letter-spacing:0.509px">Northport, NY</div>
<div class="ln at sc" style="top:2122.9px;left:1706.4px;letter-spacing:1.814px">Gene Payne</div>
<div class="ln at" style="top:2157.3px;left:1670.9px;letter-spacing:0.130px">Sioux Falls, SD</div>

<!-- footer -->
<div class="ln ft" style="left:201px;top:2546px;">10</div>
<div style="position:absolute;left:250.5px;top:2548px;width:0;height:0;border-left:6.5px solid transparent;border-right:6.5px solid transparent;border-bottom:19px solid #111;"></div>
<div class="ln ft" style="left:291px;top:2546px;letter-spacing:9.5px;">AMERICAN</div>
<div class="ln ft" style="left:445px;top:2546px;letter-spacing:9.5px;">WOODWORKER</div>
<!-- rip here -->
<div class="ln" style="left:1042px;top:1931.5px;font-family:'Liberation Sans',sans-serif;font-weight:bold;font-size:28px;line-height:28px;transform-origin:0 0;transform:scaleX(0.84);color:#111;-webkit-text-stroke:1.2px #111;">Rip here.</div>
<!-- credit -->
<div class="ln" style="left:1831px;top:1734px;font-family:'Liberation Sans',sans-serif;font-weight:bold;font-size:20px;line-height:20px;transform-origin:0 0;transform:rotate(-90deg) scaleX(0.64);color:#333;-webkit-text-stroke:0.3px #333;">DRAWINGS BY HEATHER BRINE LAMBERT</div>
<!-- box -->
<div style="position:absolute;left:1338px;top:2211px;width:525px;height:299px;border:2px solid #333;"></div>
</body></html>
